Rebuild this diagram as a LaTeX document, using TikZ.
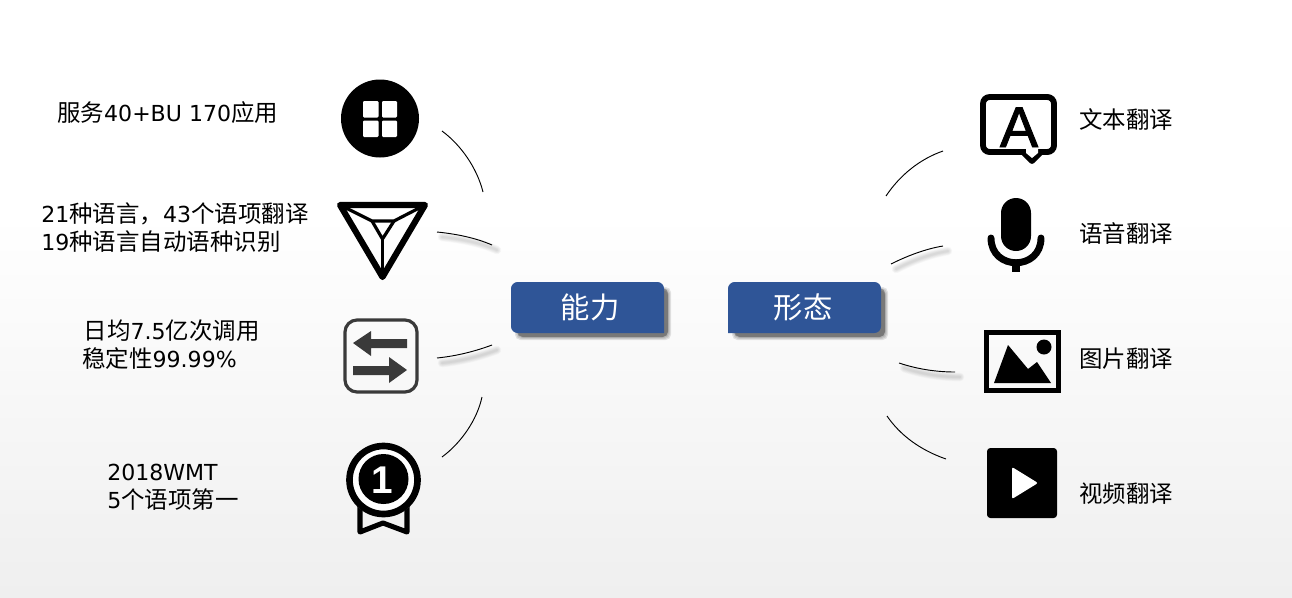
\documentclass[tikz,border=0pt]{standalone}
\usepackage{fontspec}
\setmainfont{Noto Sans CJK SC}
\newfontfamily\iconfont{Liberation Sans}
\newfontfamily\iconfat{Liberation Sans}[FakeBold=1.6]
\newfontfamily\latf{DejaVu Sans}[Scale=0.94]
\newcommand{\lat}[1]{{\latf #1}}
\definecolor{boxblue}{HTML}{2F5597}
\definecolor{arrowgrey}{HTML}{3A3A3A}
\definecolor{endgrey}{HTML}{EFEFEF}
\tikzset{
  x=0.75pt,y=-0.75pt,
  txtlabel/.style={inner sep=0pt,anchor=west,align=left,font=\fontsize{17.6pt}{21pt}\selectfont,text=black},
  boxlabel/.style={inner sep=0pt,text=white,font=\fontsize{22pt}{26pt}\selectfont},
  arcline/.style={draw=black,line width=0.7pt},
  softline/.style={draw=black,line cap=round,opacity=0.022},
  softbox/.style={fill=black,opacity=0.10},
}
\newcommand{\softstroke}[4]{%
  \foreach \w in {1.5,2.5,3.5,4.5,5.5,6.5}{
    \draw[softline,line width=\w pt,shift={(5,5)}] (#1) .. controls (#2) and (#3) .. (#4);
  }}
\begin{document}
\begin{tikzpicture}
\useasboundingbox (0,0) rectangle (1292,597);
\fill[white] (0,0) rectangle (1292,597);
\shade[top color=white,bottom color=endgrey] (0,215) rectangle (1292,597);

% free ends of the curved connectors
\coordinate (l1a) at (442,131); \coordinate (l1b) at (483,192);
\coordinate (l2a) at (437,232); \coordinate (l2b) at (492,245);
\coordinate (l3a) at (437,358); \coordinate (l3b) at (492,345);
\coordinate (l4a) at (442,457); \coordinate (l4b) at (482,397);
\coordinate (r1a) at (943,151); \coordinate (r1b) at (886,196);
\coordinate (r2a) at (943,246); \coordinate (r2b) at (891,264);
\coordinate (r3a) at (899,363); \coordinate (r3b) at (955,372);
\coordinate (r4a) at (887,416); \coordinate (r4b) at (946,459);

% soft shadows of four curves
\softstroke{437,232}{457,234}{476,238}{492,245}
\softstroke{437,358}{457,356}{476,351}{492,345}
\softstroke{943,246}{925,249}{907,256}{891,264}
\softstroke{899,363}{917,369}{936,372}{955,372}

\draw[arcline] (l1a) .. controls (461,145) and (477,168) .. (l1b);
\draw[arcline] (l2a) .. controls (457,234) and (476,238) .. (l2b);
\draw[arcline] (l3a) .. controls (457,356) and (476,351) .. (l3b);
\draw[arcline] (l4a) .. controls (461,443) and (477,420) .. (l4b);
\draw[arcline] (r1a) .. controls (920,159) and (900,175) .. (r1b);
\draw[arcline] (r2a) .. controls (925,249) and (907,256) .. (r2b);
\draw[arcline] (r3a) .. controls (917,369) and (936,372) .. (r3b);
\draw[arcline] (r4a) .. controls (900,435) and (920,450) .. (r4b);

% box shadows
\foreach \g in {0,1,2,3}{
  \fill[softbox,rounded corners=4pt] (516-\g+2,288-\g+2) rectangle (669+\g-1,338+\g-1);
  \fill[softbox,rounded corners=4pt] (733-\g+2,288-\g+2) rectangle (886+\g-1,338+\g-1);
}
\fill[black,opacity=0.25,rounded corners=4pt] (517,288) rectangle (668,337);
\fill[black,opacity=0.25,rounded corners=4pt] (734,288) rectangle (885,337);

% boxes
\fill[boxblue,rounded corners=5pt] (664,333) -- (511,333) -- (511,282) -- (664,282) -- (664,333);
\fill[boxblue,rounded corners=5pt] (728,333) -- (881,333) -- (881,282) -- (728,282) -- (728,333);
\node[boxlabel] (cap) at (590,307) {能力};
\node[boxlabel] (form) at (803,307) {形态};

% left labels
\node[txtlabel] (t1) at (57,113) {服务\lat{40+BU 170}应用};
\node[txtlabel] (t2) at (41,228) {\lat{21}种语言，\lat{43}个语项翻译\\\lat{19}种语言自动语种识别};
\node[txtlabel] (t3) at (82,345) {\hspace{1pt}日均\lat{7.5}亿次调用\\稳定性\lat{99.99\%}};
\node[txtlabel] (t4) at (107,487) {\lat{2018WMT}\\\lat{5}个语项第一};

% right labels
\node[txtlabel] (t5) at (1079,120) {文本翻译};
\node[txtlabel] (t6) at (1079,234) {语音翻译};
\node[txtlabel] (t7) at (1079,359) {图片翻译};
\node[txtlabel] (t8) at (1079,494) {视频翻译};

% icon: grid in disc
\fill[black] (380,118.5) circle [radius=39];
\begin{scope}[white,rounded corners=0.8pt]
\fill (363,101) rectangle (378.5,117.5);
\fill (382,101) rectangle (397,117.5);
\fill (363,120.5) rectangle (378.5,137);
\fill (382,120.5) rectangle (397,137);
\end{scope}

% icon: triangle
\draw[black,line width=4.6pt,line join=round] (340,205) -- (425,205) -- (382.5,277) -- cycle;
\draw[black,line width=2.4pt,line join=round] (340,205) -- (372,221) -- (394,221) -- (425,205);
\draw[black,line width=2.4pt,line join=round] (372,221) -- (382.5,239) -- (394,221);
\draw[black,line width=2.4pt] (382.5,239) -- (382.5,277);

% icon: swap arrows
\draw[arrowgrey,line width=2.4pt,rounded corners=9pt] (345,320) rectangle (417,392);
\fill[arrowgrey] (353,343) -- (371,331) -- (371,339) -- (407,339) -- (407,348) -- (371,348) -- (371,356) -- cycle;
\fill[arrowgrey] (407,370) -- (389,357) -- (389,366) -- (353,366) -- (353,375) -- (389,375) -- (389,383) -- cycle;

% icon: medal
\draw[black,line width=3.8pt,line join=round,line cap=round] (360,506) -- (360,532) -- (383,523) -- (407,532) -- (407,506);
\fill[white] (383.5,480) circle [radius=37];
\draw[black,line width=5pt] (383.5,480) circle [radius=34];
\fill[black] (383.5,479) circle [radius=25];
\node[inner sep=0pt,anchor=base,text=white,font=\iconfont\bfseries\fontsize{29pt}{29pt}\selectfont] (one) at (382,493) {1};

% icon: speech bubble A
\fill[white] (983,97) rectangle (1054,152);
\draw[black,line width=4.4pt,line join=round,line cap=round] (1023,152) -- (1032,161) -- (1041,152);
\draw[black,line width=4.4pt,rounded corners=5pt] (983,97) rectangle (1054,152);
\fill[white] (1026,147) -- (1038,147) -- (1038,153) -- (1032,158) -- (1026,153) -- cycle;
\node[inner sep=0pt,anchor=base,text=black,font=\iconfat\fontsize{43pt}{43pt}\selectfont] (letter) at (1019,147) {A};

% icon: microphone
\fill[black,rounded corners=11.2pt] (1001,198) rectangle (1031,251);
\draw[black,line width=5.2pt,line cap=round] (991,238) .. controls (991,271) and (1041,271) .. (1041,238);
\fill[black] (1012,260) rectangle (1020,272);

% icon: picture
\draw[black,line width=3.8pt] (986.5,332.5) rectangle (1058.5,390.5);
\fill[black] (994,383) -- (1008,345) -- (1028,369) -- (1037,362) -- (1051,383) -- cycle;
\fill[black] (1044,347) circle [radius=7.5];

% icon: play
\fill[black,rounded corners=2.5pt] (987,448) rectangle (1057,518);
\fill[white,rounded corners=1.5pt] (1012,467) -- (1038,483) -- (1012,499) -- cycle;
\end{tikzpicture}
\end{document}
